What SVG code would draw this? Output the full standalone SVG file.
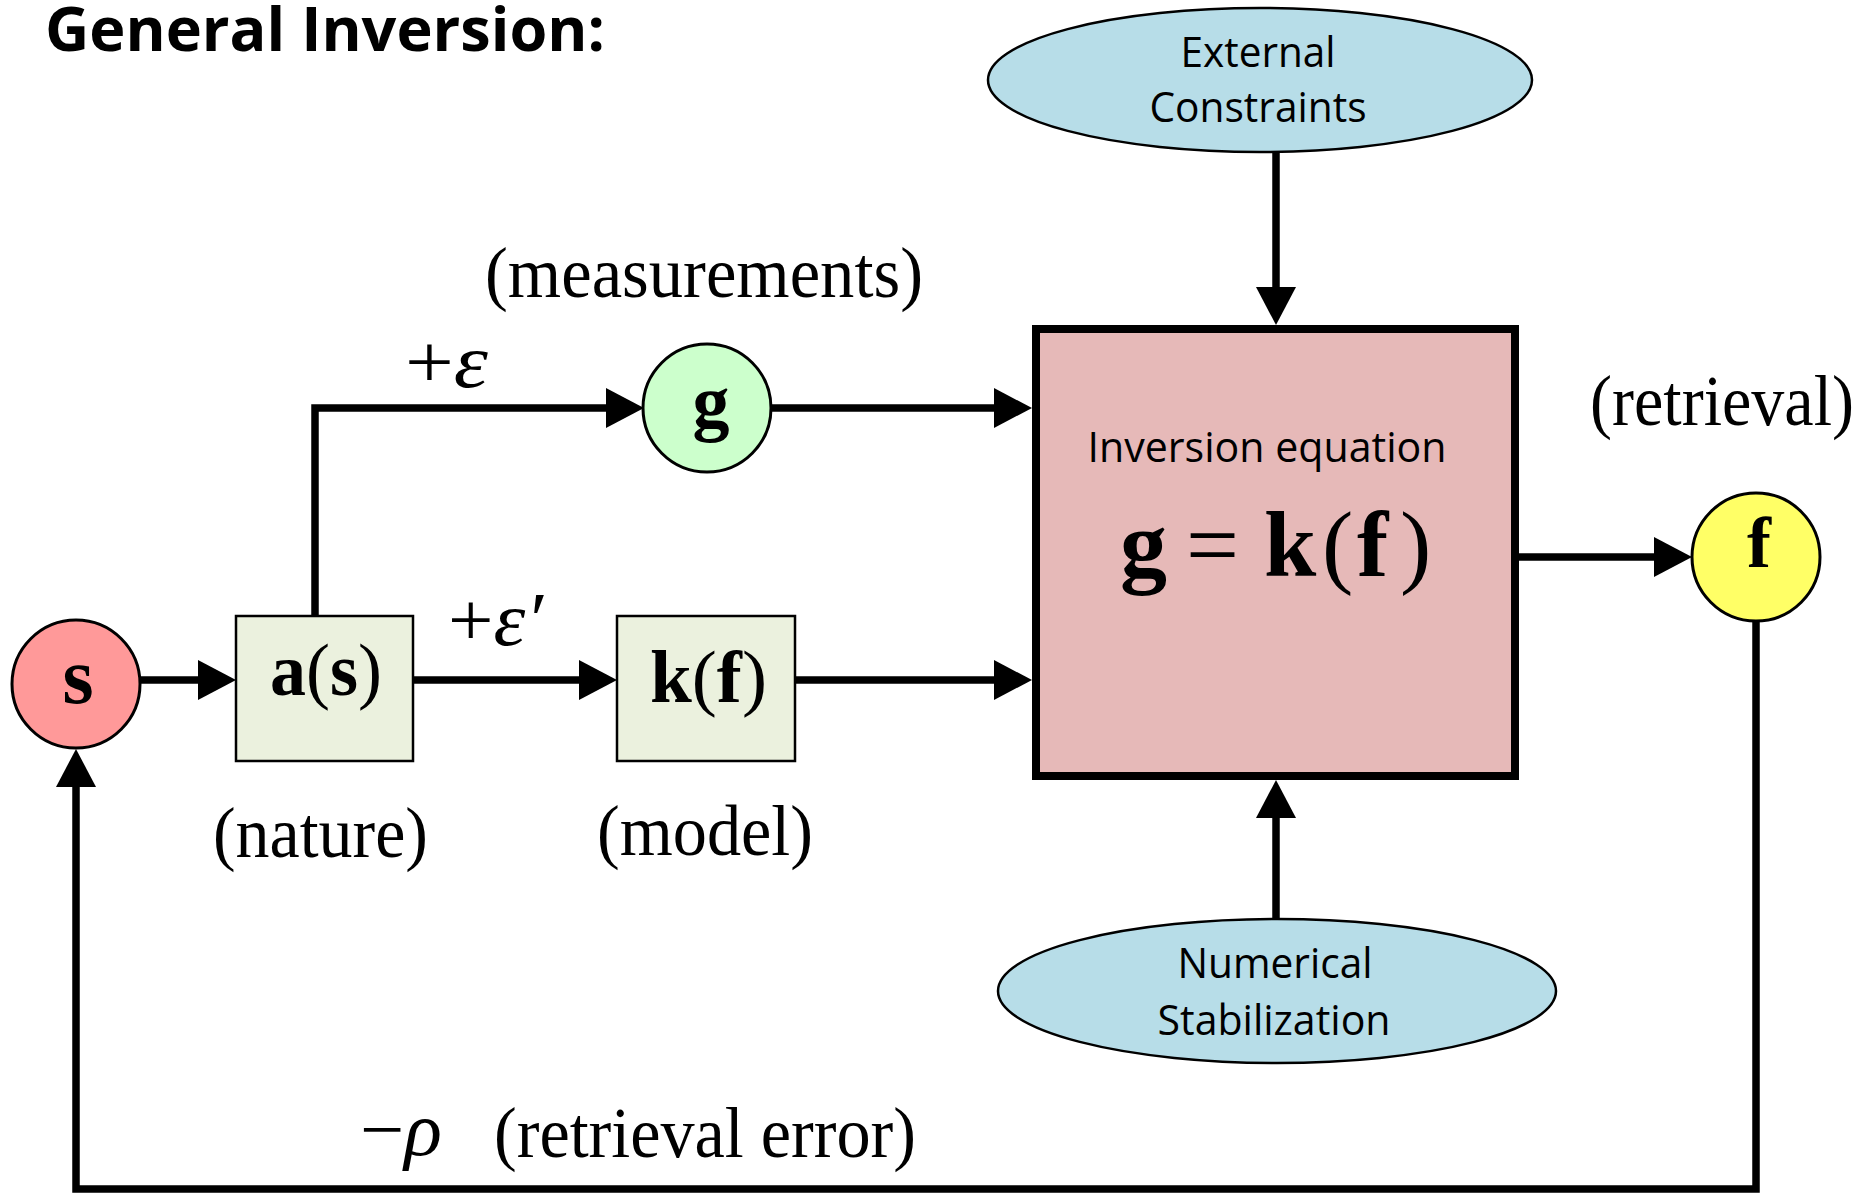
<svg xmlns="http://www.w3.org/2000/svg" width="1868" height="1193" viewBox="0 0 1868 1193">
  <style>
    .sans { font-family: "Open Sans", "Liberation Sans", sans-serif; fill: #000; }
    .serif { font-family: "Liberation Serif", "Times New Roman", serif; fill: #000; }
    .b { font-weight: bold; }
    .i { font-style: italic; }
    .conn { fill: none; stroke: #000; stroke-width: 7.5; marker-end: url(#arrow); }
    .circ { stroke: #000; stroke-width: 3; }
    .sbox { fill: #EBF1DE; stroke: #000; stroke-width: 2.5; }
    .ell { fill: #B7DDE8; stroke: #000; stroke-width: 2.5; }
  </style>
  <defs>
    <marker id="arrow" markerUnits="userSpaceOnUse" markerWidth="40" markerHeight="40" refX="5" refY="20" orient="auto">
      <path d="M0,0 L38,20 L0,40 Z" fill="#000"/>
    </marker>
  </defs>
  <rect width="1868" height="1193" fill="#fff"/>

  <text class="sans b" x="45" y="51" font-size="61" textLength="560" lengthAdjust="spacingAndGlyphs">General Inversion:</text>

  <g id="connectors">
    <path class="conn" d="M140,680 H203"/>
    <path class="conn" d="M413,680 H584"/>
    <path class="conn" d="M795,680 H999"/>
    <path class="conn" d="M315,616 V408 H611"/>
    <path class="conn" d="M771,408 H999"/>
    <path class="conn" d="M1519,557 H1659"/>
    <path class="conn" d="M1276,152 V292"/>
    <path class="conn" d="M1276,919 V813"/>
    <path class="conn" d="M1756,621 V1189 H76 V782"/>
  </g>

  <g id="node-s">
    <circle class="circ" cx="76" cy="684" r="64" fill="#FF9999"/>
    <text class="serif b" x="78" y="703" font-size="80" text-anchor="middle">s</text>
  </g>

  <g id="node-a">
    <rect class="sbox" x="236" y="616" width="177" height="145"/>
    <text class="serif" x="270" y="695" font-size="74" textLength="112" lengthAdjust="spacingAndGlyphs"><tspan class="b">a</tspan>(<tspan class="b">s</tspan>)</text>
  </g>

  <g id="node-k">
    <rect class="sbox" x="617" y="616" width="178" height="145"/>
    <text class="serif" x="650" y="702" font-size="74" textLength="117" lengthAdjust="spacingAndGlyphs"><tspan class="b">k</tspan>(<tspan class="b">f</tspan>)</text>
  </g>

  <g id="node-g">
    <circle class="circ" cx="707" cy="408" r="64" fill="#CCFFCC"/>
    <text class="serif b" x="711" y="427" font-size="74" text-anchor="middle">g</text>
  </g>

  <g id="node-inversion">
    <rect x="1036" y="329" width="479" height="447" fill="#E6B9B8" stroke="#000" stroke-width="8"/>
    <text class="sans" x="1267" y="462" font-size="42" text-anchor="middle" textLength="359" lengthAdjust="spacingAndGlyphs">Inversion equation</text>
    <text class="serif" y="576" font-size="94"><tspan class="b" x="1120">g</tspan><tspan x="1186">=</tspan><tspan class="b" x="1264">k</tspan><tspan x="1322">(</tspan><tspan class="b" x="1357">f</tspan><tspan x="1400">)</tspan></text>
  </g>

  <g id="node-f">
    <circle class="circ" cx="1756" cy="557" r="64" fill="#FFFF66"/>
    <text class="serif b" x="1759" y="567" font-size="72" text-anchor="middle">f</text>
  </g>

  <g id="node-external">
    <ellipse class="ell" cx="1260" cy="80" rx="272" ry="72"/>
    <text class="sans" x="1258" y="67" font-size="42" text-anchor="middle" textLength="155" lengthAdjust="spacingAndGlyphs">External</text>
    <text class="sans" x="1258" y="122" font-size="42" text-anchor="middle" textLength="217" lengthAdjust="spacingAndGlyphs">Constraints</text>
  </g>

  <g id="node-numerical">
    <ellipse class="ell" cx="1277" cy="991" rx="279" ry="72"/>
    <text class="sans" x="1275" y="978" font-size="42" text-anchor="middle" textLength="195" lengthAdjust="spacingAndGlyphs">Numerical</text>
    <text class="sans" x="1274" y="1035" font-size="42" text-anchor="middle" textLength="233" lengthAdjust="spacingAndGlyphs">Stabilization</text>
  </g>

  <g id="labels">
    <text class="serif" x="485" y="297" font-size="72" textLength="438" lengthAdjust="spacingAndGlyphs">(measurements)</text>
    <text class="serif" x="1590" y="425" font-size="72" textLength="264" lengthAdjust="spacingAndGlyphs">(retrieval)</text>
    <text class="serif" x="213" y="857" font-size="72" textLength="215" lengthAdjust="spacingAndGlyphs">(nature)</text>
    <text class="serif" x="597" y="855" font-size="72" textLength="216" lengthAdjust="spacingAndGlyphs">(model)</text>
    <text class="serif" x="405" y="387" font-size="76" textLength="83" lengthAdjust="spacingAndGlyphs">+<tspan class="i">ε</tspan></text>
    <text class="serif" x="448" y="645" font-size="76" textLength="95" lengthAdjust="spacingAndGlyphs">+<tspan class="i">ε′</tspan></text>
    <text class="serif" x="360" y="1155" font-size="76" textLength="82" lengthAdjust="spacingAndGlyphs">−<tspan class="i">ρ</tspan></text>
    <text class="serif" x="494" y="1157" font-size="72" textLength="422" lengthAdjust="spacingAndGlyphs">(retrieval error)</text>
  </g>
</svg>
